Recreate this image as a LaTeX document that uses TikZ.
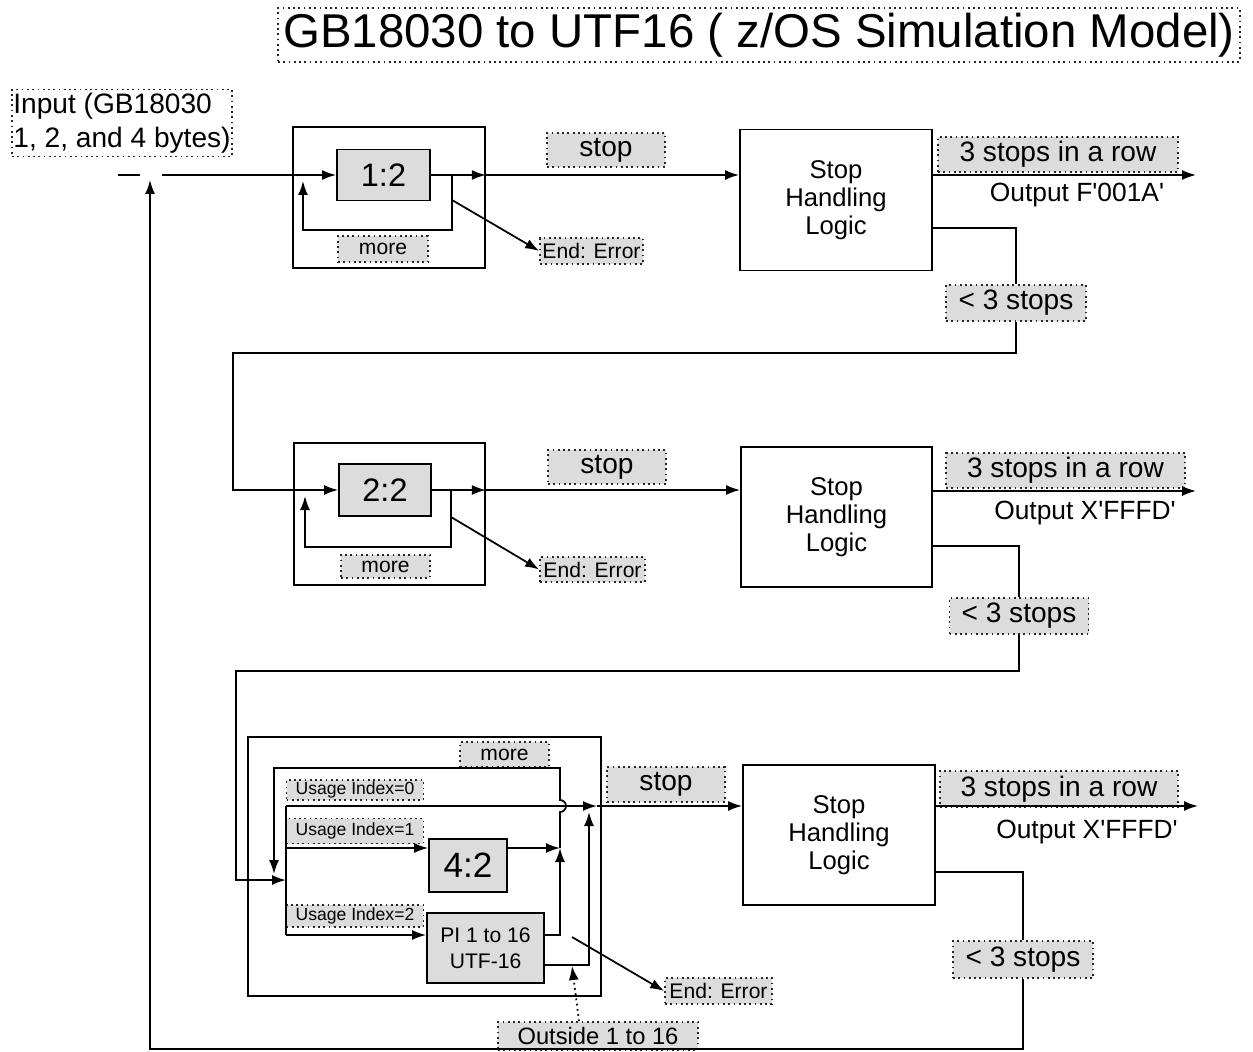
\documentclass[tikz,border=0pt]{standalone}
\usepackage{fontspec}
\setmainfont{Liberation Sans}
\usepackage{xcolor}
\definecolor{cShade}{HTML}{DCDCDC}
\usetikzlibrary{arrows.meta, positioning, calc}
\newcommand{\fzTitle}{\fontsize{27}{30}\selectfont}
\newcommand{\fzIn}{\fontsize{16}{19.4}\selectfont}
\newcommand{\fzLbl}{\fontsize{16}{19}\selectfont}
\newcommand{\fzShl}{\fontsize{14.6}{16}\selectfont}
\newcommand{\fzUnit}{\fontsize{18.5}{22}\selectfont}
\newcommand{\fzSmall}{\fontsize{12}{15}\selectfont}
\newcommand{\fzTiny}{\fontsize{10}{12}\selectfont}
\tikzset{
  tag/.style   = {rectangle, draw=black!85, dotted, fill=cShade,
                  inner sep=0pt, align=center, font=\fzLbl},
  frame/.style = {rectangle, draw, inner sep=0pt},
  unit/.style  = {rectangle, draw, fill=cShade, inner sep=0pt,
                  align=center, font=\fzUnit},
  shl/.style   = {rectangle, draw, inner sep=0pt, minimum width=3.84cm,
                  minimum height=2.82cm, align=center, font=\fzShl},
  arr/.style   = {-{Latex[length=2.8mm, width=2mm]}},
}

\begin{document}
\begin{tikzpicture}[x=0.02cm, y=-0.02cm, line width=1pt,
  note/.style={inner sep=0pt, font=\fontsize{15}{18}\selectfont},
]
  \useasboundingbox (0,0) rectangle (1253,1051);

  %% Title and input
  \node[tag, fill=white, minimum width=19.24cm, minimum height=1.08cm,
        font=\fzTitle] (title) at (759,35)
        {GB18030 to UTF16 ( z/OS Simulation Model)};
  \node[tag, fill=white, minimum width=4.4cm, minimum height=1.34cm,
        align=left, font=\fzIn] (input) at (122,123)
        {Input (GB18030\\1, 2, and 4 bytes)};

  %% Stage 1
  \node[frame, minimum width=3.84cm, minimum height=2.82cm] (b1) at (389,197.5) {};
  \node[unit, minimum width=1.86cm, minimum height=1.02cm] (u1) at (383.5,175) {1:2};
  \node[tag, minimum width=1.8cm, minimum height=0.52cm, font=\fzSmall] (more1) at (383,249) {more};
  \node[tag, minimum width=2.36cm, minimum height=0.68cm] (stop1) at (606,150) {stop};
  \node[tag, minimum width=2.06cm, minimum height=0.52cm, font=\fzSmall] (err1) at (591.5,251) {End: Error};
  \node[shl] (shl1) at (836,200) {Stop\\Handling\\Logic};
  \node[tag, minimum width=4.8cm, minimum height=0.7cm] (row1) at (1058,154.5) {3 stops in a row};
  \node[note] (out1) at (1077,195) {Output F\textquotesingle001A\textquotesingle};
  \node[tag, minimum width=2.8cm, minimum height=0.72cm] (less1) at (1016,303) {< 3 stops};

  %% Stage 2
  \node[frame, minimum width=3.82cm, minimum height=2.84cm] (b2) at (389.5,514) {};
  \node[unit, minimum width=1.84cm, minimum height=1.04cm] (u2) at (385,490) {2:2};
  \node[tag, minimum width=1.78cm, minimum height=0.46cm, font=\fzSmall] (more2) at (385.5,566.5) {more};
  \node[tag, minimum width=2.36cm, minimum height=0.68cm] (stop2) at (607,467) {stop};
  \node[tag, minimum width=2.1cm, minimum height=0.5cm, font=\fzSmall] (err2) at (592.5,569.5) {End: Error};
  \node[shl, minimum width=3.82cm, minimum height=2.8cm] (shl2) at (836.5,517) {Stop\\Handling\\Logic};
  \node[tag, minimum width=4.78cm, minimum height=0.7cm] (row2) at (1065.5,470.5) {3 stops in a row};
  \node[note] (out2) at (1085,513) {Output X\textquotesingle FFFD\textquotesingle};
  \node[tag, minimum width=2.78cm, minimum height=0.72cm] (less2) at (1019,616) {< 3 stops};

  %% Stage 3
  \node[frame, minimum width=7.06cm, minimum height=5.18cm] (b3) at (424.5,866.5) {};
  \node[tag, minimum width=1.78cm, minimum height=0.5cm, font=\fzSmall] (more3) at (504.5,754.5) {more};
  \node[tag, minimum width=2.74cm, minimum height=0.4cm, font=\fzTiny] (ui0) at (355,790) {Usage Index=0};
  \node[tag, minimum width=2.74cm, minimum height=0.5cm, font=\fzTiny] (ui1) at (355,831) {Usage Index=1};
  \node[tag, minimum width=2.74cm, minimum height=0.44cm, font=\fzTiny] (ui2) at (355,916) {Usage Index=2};
  \node[unit, minimum width=1.56cm, minimum height=1.06cm, font=\fontsize{20}{24}\selectfont] (u3) at (468,865.5) {4:2};
  \node[unit, minimum width=2.34cm, minimum height=1.4cm, font=\fzSmall] (pi) at (485.5,948) {PI 1 to 16\\UTF-16};
  \node[tag, minimum width=2.36cm, minimum height=0.7cm] (stop3) at (666,784.5) {stop};
  \node[tag, minimum width=2.14cm, minimum height=0.52cm, font=\fzSmall] (err3) at (718.5,991) {End: Error};
  \node[tag, minimum width=4.0cm, minimum height=0.56cm, font=\fontsize{13.5}{16}\selectfont] (out16) at (598,1036) {Outside 1 to 16};
  \node[shl, minimum width=3.84cm, minimum height=2.8cm] (shl3) at (839,835) {Stop\\Handling\\Logic};
  \node[tag, minimum width=4.76cm, minimum height=0.72cm] (row3) at (1059,789) {3 stops in a row};
  \node[note] (out3) at (1087,832) {Output X\textquotesingle FFFD\textquotesingle};
  \node[tag, minimum width=2.8cm, minimum height=0.74cm] (less3) at (1023,959.5) {< 3 stops};

  %% Junction points
  \coordinate (inL) at (118,175);
  \coordinate (gapL) at (140,175);
  \coordinate (gapR) at (162,175);
  \coordinate (t0) at (150,180);
  \coordinate (fb) at (150,1049);
  \coordinate (k1) at (452,175);
  \coordinate (r1) at (303,181);
  \coordinate (e1) at (452,200);
  \coordinate (o1) at (1196,175);
  \coordinate (w1) at (233,353);
  \coordinate (k2) at (451,490);
  \coordinate (r2) at (305,496);
  \coordinate (e2) at (451,517);
  \coordinate (o2) at (1196,491);
  \coordinate (w2) at (236,671);
  \coordinate (busE) at (286,880);
  \coordinate (bus0) at (286,806);
  \coordinate (bus1) at (286,848);
  \coordinate (bus2) at (286,935);
  \coordinate (j1) at (560,848);
  \coordinate (hop) at (560,812);
  \coordinate (mt) at (560,768);
  \coordinate (mb) at (274,874);
  \coordinate (m0) at (597,806);
  \coordinate (m1) at (589,812);
  \coordinate (e3) at (572,937);
  \coordinate (q16) at (572,966);
  \coordinate (o3) at (1198,806);

  %% Stage 1 flow
  \draw (inL) -- (gapL);
  \draw[arr] (gapR) -- (u1.west);
  \draw[arr] (k1) -- ++(0,55) -| (r1);
  \draw[arr] (u1.east) -- (b1.east |- u1.east);
  \draw[arr] (b1.east |- u1.east) -- (shl1.west |- u1.east);
  \draw[arr] (e1) -- (err1.west);
  \draw[arr] (shl1.east |- o1) -- (o1);
  \draw ($(shl1.east)+(0,28)$) -| (less1.north);
  \draw[arr] (less1.south) |- (w1) |- (u2.west);

  %% Stage 2 flow
  \draw[arr] (k2) -- ++(0,57) -| (r2);
  \draw[arr] (u2.east) -- (b2.east |- u2.east);
  \draw[arr] (b2.east |- u2.east) -- (shl2.west |- u2.east);
  \draw[arr] (e2) -- (err2.west);
  \draw[arr] (shl2.east |- o2) -- (o2);
  \draw ($(shl2.east)+(0,29)$) -| (less2.north);
  \draw[arr] (less2.south) |- (w2) |- (busE);

  %% Stage 3 flow
  \draw (bus0) -- (bus2);
  \draw[arr] (bus0) -- (m0);
  \draw[arr] (bus1) -- (u3.west |- bus1);
  \draw[arr] (u3.east |- bus1) -- (j1);
  \draw[arr] (bus2) -- (pi.west |- bus2);
  \draw[arr] (pi.east |- bus2) -| (j1);
  \draw[arr] (j1) -- (hop) arc[start angle=-90, end angle=90, radius=0.12cm]
        -- (mt) -| (mb);
  \draw[arr] ($(pi.east)+(0,17)$) -| (m1);
  \draw[arr] (m0) -- (shl3.west |- m0);
  \draw[arr] (e3) -- (err3.west);
  \draw[arr, dotted] ($(out16.north)+(-19,0)$) -- (q16);
  \draw[arr] (shl3.east |- o3) -- (o3);
  \draw ($(shl3.east)+(0,37)$) -| (less3.north);
  \draw[arr] (less3.south) |- (fb) -- (t0);

\end{tikzpicture}
\end{document}
